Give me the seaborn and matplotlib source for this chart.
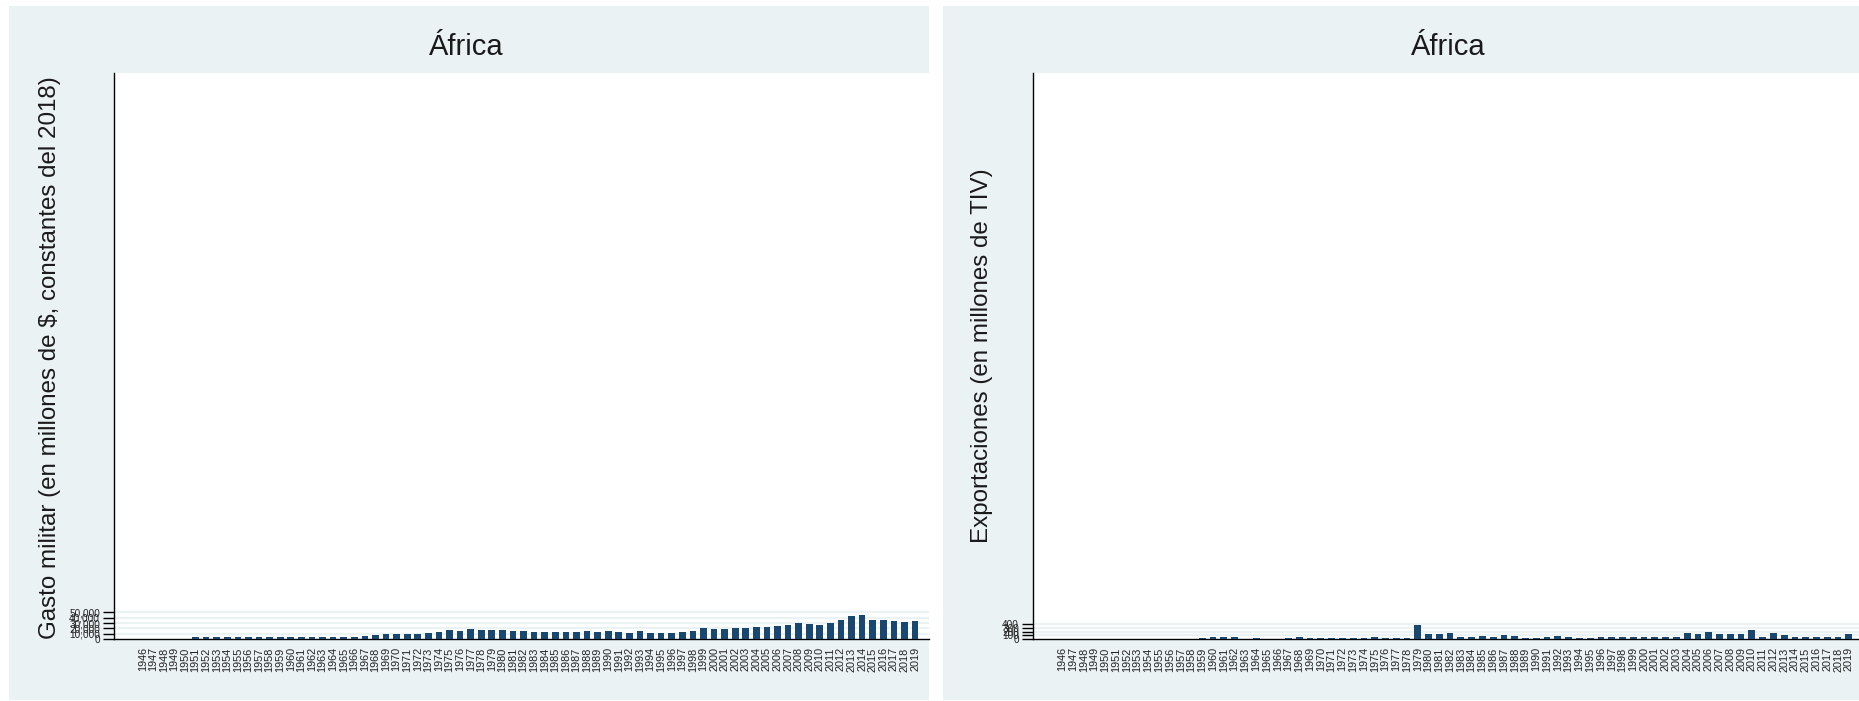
import numpy as np
import pandas as pd
import matplotlib
matplotlib.use("Agg")
import matplotlib.pyplot as plt
import seaborn as sns
from matplotlib.patches import Rectangle
from matplotlib.ticker import FuncFormatter

years = list(range(1946, 2020))

# Gasto militar (millones de $, constantes 2018), 1946-2019 (None = sin dato)
gasto = [None, None, None, None, None,
         3000, 3000, 3000, 3000, 3000, 3000, 3000, 3000, 3000, 3100,
         3100, 3200, 3200, 3400, 4000, 4600, 6000, 7000, 8800, 10000,
         10000, 10000, 11900, 13700, 16000, 15600, 18000, 17500, 17500, 17500,
         14400, 14400, 12500, 12500, 12500, 12500, 13700, 14400, 13700, 14400,
         12500, 11900, 15600, 11900, 11900, 11900, 13700, 15600, 21200, 19400,
         19400, 21200, 21200, 23100, 23100, 25000, 26900, 30600, 28700, 26900,
         29400, 36200, 43700, 45600, 35000, 35000, 34400, 32500, 33100]

# Exportaciones (millones de TIV), 1946-2019
export = [None] * 13 + [
         40, 45, 50, 45, None, 40, None, None, 40, 50,
         40, 40, 40, 40, 40, 40, 45, 40, 40, 40,
         390, 145, 145, 170, 45, 50, 90, 45, 120, 90,
         40, 40, 60, 80, 60, 40, 40, 45, 45, 45,
         45, 45, 45, 45, 60, 170, 145, 200, 130, 145,
         130, 250, 60, 170, 120, 60, 60, 60, 60, 60, 145]

left_ticks = [0, 10000, 20000, 30000, 40000, 50000]
right_ticks = [0, 100, 200, 300, 400]
title_text = "África"
ylab_left = "Gasto militar (en millones de $, constantes del 2018)"
ylab_right = "Exportaciones (en millones de TIV)"

sns.set_theme(style="white")
plt.rcParams['font.family'] = ['Liberation Sans', 'DejaVu Sans']

W, H = 1859, 701
fig = plt.figure(figsize=(W / 100, H / 100), dpi=100)
fig.patch.set_facecolor("white")

BG = "#EAF2F3"
BAR = "#1A476F"
GRID = "#EAF2F3"

def px(x0, y_top, x1, y_bot):
    return [x0 / W, 1 - y_bot / H, (x1 - x0) / W, (y_bot - y_top) / H]

# panel backgrounds
fig.patches.append(Rectangle((9 / W, 1 - 700 / H), 920 / W, 694 / H,
                             transform=fig.transFigure, facecolor=BG, edgecolor="none", zorder=-5))
fig.patches.append(Rectangle((943 / W, 1 - 700 / H), 1010 / W, 694 / H,
                             transform=fig.transFigure, facecolor=BG, edgecolor="none", zorder=-5))

order = [str(y) for y in years]

def panel(rect, vals, ticks, ymax, fmt):
    ax = fig.add_axes(rect)
    ax.set_zorder(2)
    df = pd.DataFrame({"year": order, "val": vals}).dropna()
    sns.barplot(data=df, x="year", y="val", order=order, color=BAR,
                saturation=1, width=0.63, ax=ax, zorder=3, edgecolor="none")
    ax.set_facecolor("white")
    ax.set_xlim(-2.71, len(order) - 1 + 1.32)
    ax.set_ylim(0, ymax)
    ax.set_yticks(ticks)
    ax.yaxis.set_major_formatter(FuncFormatter(fmt))
    for t in ticks[1:]:
        ax.axhline(t, color=GRID, lw=1.6, zorder=1)
    for s in ["top", "right"]:
        ax.spines[s].set_visible(False)
    for s in ["left", "bottom"]:
        ax.spines[s].set_color("black")
        ax.spines[s].set_linewidth(1.0)
    ax.tick_params(axis="x", length=0, pad=6, labelsize=7.8, rotation=90, colors="#222222")
    ax.tick_params(axis="y", length=8, width=1.0, color="black", pad=2,
                   labelsize=7.2, colors="#222222", left=True)
    ax.set_xlabel("")
    ax.set_ylabel("")
    return ax

panel(px(114, 73, 929, 639), gasto, left_ticks, 1064000,
      lambda v, p: f"{int(v):,}")
panel(px(1033, 73, 1863, 639), export, right_ticks, 15500,
      lambda v, p: f"{int(v)}")

fig.text(466 / W, 1 - 47 / H, title_text, ha="center", va="center", fontsize=21, color="#1a1a1a")
fig.text(1448 / W, 1 - 47 / H, title_text, ha="center", va="center", fontsize=21, color="#1a1a1a")
fig.text(50 / W, 1 - 358 / H, ylab_left, ha="center", va="center", rotation=90, fontsize=17.4, color="#1a1a1a")
fig.text(982 / W, 1 - 356 / H, ylab_right, ha="center", va="center", rotation=90, fontsize=17.4, color="#1a1a1a")

fig.savefig("out.png", dpi=100, facecolor="white")
